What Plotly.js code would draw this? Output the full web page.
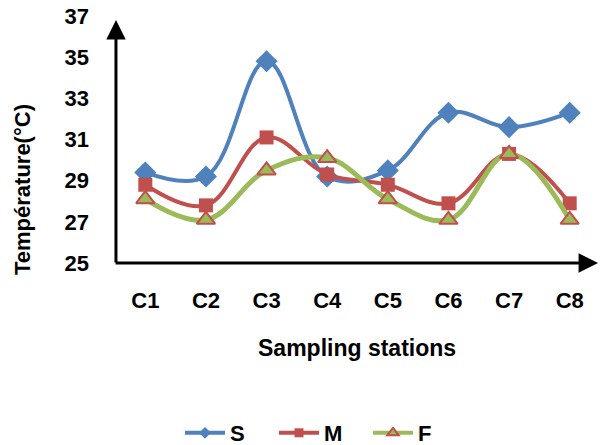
<!DOCTYPE html>
<html>
<head>
<meta charset="utf-8">
<script src="https://cdn.plot.ly/plotly-3.0.1.min.js"></script>
<style>html,body{margin:0;padding:0;background:#fff;}#chart{width:600px;height:445px;}</style>
</head>
<body>
<div id="chart"></div>
<script>
const stations = ["C1","C2","C3","C4","C5","C6","C7","C8"];
const seriesS = [29.4, 29.2, 34.8, 29.2, 29.5, 32.3, 31.6, 32.3];
const seriesM = [28.8, 27.8, 31.1, 29.3, 28.8, 27.9, 30.3, 27.9];
const seriesF = [28.1, 27.1, 29.5, 30.1, 28.1, 27.1, 30.3, 27.1];
const yTicks = [25, 27, 29, 31, 33, 35, 37];

const FONT = "Liberation Sans, Arial, sans-serif";

const styles = {
  S: {line: {color: "#4F81BD", width: 4}, marker: {symbol: "diamond", color: "#4F81BD"}, size: 17, lsize: 9, mline: {width: 0}},
  M: {line: {color: "#C0504D", width: 4}, marker: {symbol: "square", color: "#C0504D"}, size: 14, lsize: 9, mline: {width: 0}},
  F: {line: {color: "#9BBB59", width: 5}, marker: {symbol: "triangle-up", color: "#9BBB59"}, size: 16, lsize: 10, mline: {width: 2, color: "#C0504D"}}
};

function dataTrace(name, values) {
  const s = styles[name];
  return {x: stations, y: values, name: name, type: "scatter", mode: "lines+markers", showlegend: false,
    line: Object.assign({shape: "spline", smoothing: 1.1}, s.line),
    marker: Object.assign({size: s.size, line: s.mline}, s.marker)};
}
function legendTrace(name) {
  const s = styles[name];
  return {x: [null], y: [null], name: name, type: "scatter", mode: "lines+markers", showlegend: true,
    line: {color: s.line.color, width: 4},
    marker: Object.assign({size: s.lsize, line: s.mline}, s.marker)};
}

const traces = [
  dataTrace("S", seriesS), dataTrace("M", seriesM), dataTrace("F", seriesF),
  legendTrace("S"), legendTrace("M"), legendTrace("F")
];

const layout = {
  width: 600, height: 445,
  margin: {l: 115, r: 0, t: 16, b: 182},
  paper_bgcolor: "#fff", plot_bgcolor: "#fff",
  showlegend: true,
  font: {family: FONT, size: 21, color: "#000", weight: "bold"},
  xaxis: {
    type: "category", range: [-0.5, 7.5],
    showline: false, showgrid: false, zeroline: false, ticks: "",
    ticklabelstandoff: 22,
    tickfont: {family: FONT, size: 22, color: "#000", weight: "bold"},
    fixedrange: true
  },
  yaxis: {
    range: [25, 37], tickvals: yTicks, ticktext: yTicks.map(String),
    showline: false, showgrid: false, zeroline: false, ticks: "",
    ticklabelstandoff: 25,
    tickfont: {family: FONT, size: 22, color: "#000", weight: "bold"},
    fixedrange: true
  },
  legend: {
    orientation: "h", xref: "container", yref: "container",
    x: 0.30, xanchor: "left", y: 0.027, yanchor: "middle",
    font: {family: FONT, size: 22, color: "#000", weight: "bold"},
    itemwidth: 40, entrywidth: 39, entrywidthmode: "pixels", bgcolor: "rgba(0,0,0,0)"
  },
  annotations: [
    {xref: "paper", yref: "paper", x: 0.002, y: 0.984, axref: "pixel", ayref: "pixel",
     ax: 0, ay: 244, text: "", showarrow: true, arrowhead: 2, arrowsize: 1.3, arrowwidth: 3,
     arrowcolor: "#000", standoff: 0, startstandoff: 0},
    {xref: "paper", yref: "paper", x: 0.996, y: 0, axref: "pixel", ayref: "pixel",
     ax: -484, ay: 0, text: "", showarrow: true, arrowhead: 2, arrowsize: 1.3, arrowwidth: 3,
     arrowcolor: "#000", standoff: 0, startstandoff: 0},
    {xref: "paper", yref: "paper", x: 0.499, y: -0.344, xanchor: "center", yanchor: "middle",
     text: "Sampling stations", showarrow: false,
     font: {family: FONT, size: 23, color: "#000", weight: "bold"}},
    {xref: "paper", yref: "paper", x: (22 - 115) / 485, y: 0.2955, xanchor: "center", yanchor: "middle",
     text: "Température(°C)", showarrow: false, textangle: -90,
     font: {family: FONT, size: 22, color: "#000", weight: "bold"}}
  ]
};

Plotly.newPlot("chart", traces, layout, {displayModeBar: false, staticPlot: true});
</script>
</body>
</html>
